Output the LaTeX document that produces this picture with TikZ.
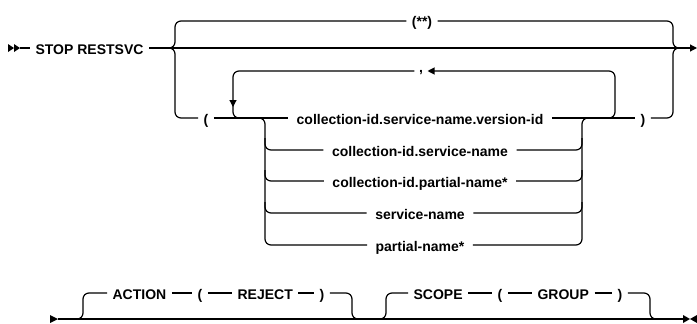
\documentclass[tikz,border=0pt]{standalone}
\usepackage{fontspec}
\setmainfont{Liberation Sans}
\usetikzlibrary{arrows.meta}
\begin{document}
\begin{tikzpicture}[x=1pt,y=-1pt,line width=1.2pt,
  rc/.style={rounded corners=6pt},
  lbl/.style={font=\fontsize{14}{16}\selectfont\bfseries,inner xsep=8pt,inner ysep=0pt,text height=12pt,text depth=0pt},
  par/.style={lbl,inner xsep=5pt},
  lblw/.style={lbl,anchor=west,inner xsep=5pt},
  tip/.style={-{Triangle[length=7pt,width=7pt]}}]
\useasboundingbox (0,0) rectangle (697,324);
% ---- first line
\fill (8,44) -- (14,48) -- (8,52) -- cycle;
\fill (14,44) -- (20,48) -- (14,52) -- cycle;
\coordinate (s0) at (20,48);
\node[lblw] (stop) at (30,48) {STOP RESTSVC};
\draw (s0) -- (stop.west);
\coordinate (E) at (697,48);
\draw[tip] (stop.east) -- (E);
% top branch
\node[par] (all) at (422,21) {(**)};
\draw[rc] (166,48) -| (175,21) -- (all.west);
\draw[rc] (all.east) -| (673,48) -- (682,48);
% lower branch
\node[par] (lp) at (206,118) {(};
\node[par] (rp) at (643,118) {)};
\draw[rc] (166,48) -| (175,118) -- (lp.west);
\draw[rc] (rp.east) -| (673,48) -- (682,48);
% choices
\node[lbl] (r1) at (420,118) {collection-id.service-name.version-id};
\node[lbl] (r2) at (420,150) {collection-id.service-name};
\node[lbl] (r3) at (420,181) {collection-id.partial-name*};
\node[lbl] (r4) at (420,213) {service-name};
\node[lbl] (r5) at (420,245) {partial-name*};
\draw (lp.east) -- (r1.west);
\draw (r1.east) -- (rp.west);
\draw[rc] (252,118) -| (265,245) -- (r5.west);
\draw[rc] (265,138) |- (r2.west);
\draw[rc] (265,170) |- (r3.west);
\draw[rc] (265,202) |- (r4.west);
\draw[rc] (r5.east) -| (582,118) -- (595,118);
\draw[rc] (r2.east) -| (582,138);
\draw[rc] (r3.east) -| (582,170);
\draw[rc] (r4.east) -| (582,202);
% repeat loop
\node[lbl,inner xsep=4pt,text height=2pt] (cm) at (421,71) {,};
\draw[rc,tip] (598,118) -| (615,71) -- (cm.east);
\draw[rc,tip] (cm.west) -| (233,107);
\draw[rc] (233,100) |- (250,118);
% ---- second line
\fill (50,315) -- (58,319) -- (50,323) -- cycle;
\coordinate (b0) at (58,319);
\coordinate (b1) at (683,319);
\draw (b0) -- (b1);
\fill (683,315) -- (690,319) -- (683,323) -- cycle;
\fill (697,315) -- (690,319) -- (697,323) -- cycle;
% ACTION
\node[lblw] (act) at (107,293) {ACTION};
\node[par] (alp) at (200,293) {(};
\node[lblw] (rej) at (232,293) {REJECT};
\node[par] (arp) at (322,293) {)};
\draw[rc] (74,319) -| (83,293) -- (act.west);
\draw (act.east) -- (alp.west);
\draw (alp.east) -- (rej.west);
\draw (rej.east) -- (arp.west);
\draw[rc] (arp.east) -| (352,319) -- (361,319);
% SCOPE
\node[lblw] (scp) at (408,293) {SCOPE};
\node[par] (slp) at (500,293) {(};
\node[lblw] (grp) at (532,293) {GROUP};
\node[par] (srp) at (620,293) {)};
\draw[rc] (377,319) -| (386,293) -- (scp.west);
\draw (scp.east) -- (slp.west);
\draw (slp.east) -- (grp.west);
\draw (grp.east) -- (srp.west);
\draw[rc] (srp.east) -| (650,319) -- (659,319);
\end{tikzpicture}
\end{document}
